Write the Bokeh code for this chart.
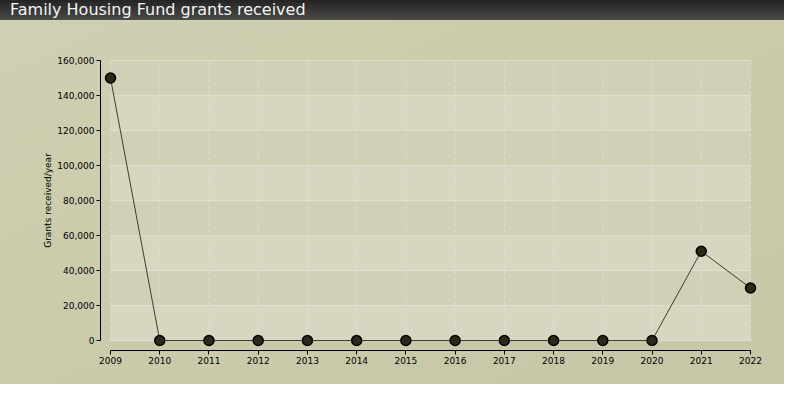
from bokeh.plotting import figure
from bokeh.layouts import column
from bokeh.models import Div, Range1d, NumeralTickFormatter, FixedTicker
from bokeh.embed import file_html
from bokeh.resources import INLINE

# ---- data ----
years = [2009, 2010, 2011, 2012, 2013, 2014, 2015, 2016, 2017, 2018, 2019, 2020, 2021, 2022]
grants = [150000, 0, 0, 0, 0, 0, 0, 0, 0, 0, 0, 0, 51000, 30000]
y_ticks = [0, 20000, 40000, 60000, 80000, 100000, 120000, 140000, 160000]
title_text = "Family Housing Fund grants received"
y_label = "Grants received/year"

# ---- layout constants ----
W, H = 784, 364
px_per_year = 640 / (years[-1] - years[0])
px_per_unit = 280 / y_ticks[-1]
pad = 10

x0 = years[0] - pad / px_per_year
x1 = years[-1] + pad / px_per_year
y0 = y_ticks[0] - pad / px_per_unit
y1 = y_ticks[-1] + pad / px_per_unit

BAND_LIGHT = "#d7d7c1"
BAND_DARK = "#d0d0b7"

p = figure(width=W, height=H, x_range=Range1d(x0, x1), y_range=Range1d(y0, y1),
           output_backend="svg", toolbar_location=None,
           min_border_left=100, min_border_right=24, min_border_top=30, min_border_bottom=34)
p.border_fill_color = None
p.background_fill_color = None
p.outline_line_color = None
p.styles = {"background": "linear-gradient(to bottom right, #cfcfb1, #c7c7a7)"}
p.xgrid.visible = False
p.ygrid.visible = False

# alternating horizontal bands (top band dark)
lows = y_ticks[:-1]
highs = y_ticks[1:]
band_cols = [BAND_LIGHT if i % 2 == 0 else BAND_DARK for i in range(len(lows))]
p.quad(left=years[0], right=years[-1], bottom=lows, top=highs,
       fill_color=band_cols, line_color=None)

# horizontal grid lines
p.segment(x0=[years[0]] * len(y_ticks), x1=[years[-1]] * len(y_ticks),
          y0=y_ticks, y1=y_ticks, line_color="#e6e6dc", line_alpha=0.7, line_width=1)
# vertical dashed grid lines
p.segment(x0=years, x1=years, y0=[y_ticks[0]] * len(years), y1=[y_ticks[-1]] * len(years),
          line_color="#e0e0e4", line_alpha=0.8, line_dash="3 3", line_width=1)

# data line and points
p.line(years, grants, line_color="#3f3e2a", line_width=1)
p.scatter(years, grants, size=10, fill_color="#2b2a17", line_color="#000000", line_width=1.5)

# axes
for ax in (p.xaxis[0], p.yaxis[0]):
    ax.axis_line_color = "#000000"
    ax.major_tick_line_color = "#000000"
    ax.minor_tick_line_color = None
    ax.major_tick_in = 0
    ax.major_tick_out = 4
    ax.major_label_text_font = "DejaVu Sans"
    ax.major_label_text_font_size = "9px"
    ax.major_label_text_color = "#000000"

p.xaxis.ticker = FixedTicker(ticks=years)
p.xaxis.bounds = (years[0], years[-1])
p.xaxis.major_label_standoff = 2

p.yaxis.ticker = FixedTicker(ticks=y_ticks)
p.yaxis.bounds = (y_ticks[0], y_ticks[-1])
p.yaxis.formatter = NumeralTickFormatter(format="0,0")
p.yaxis.major_label_standoff = 2
p.yaxis.axis_label = y_label
p.yaxis.axis_label_text_font = "DejaVu Sans"
p.yaxis.axis_label_text_font_size = "9px"
p.yaxis.axis_label_text_font_style = "normal"
p.yaxis.axis_label_text_color = "#000000"
p.yaxis.axis_label_standoff = 1

title = Div(text=title_text, width=W, height=20, margin=0,
            styles={"background": "linear-gradient(to bottom, #242424, #4a4a47)",
                    "color": "#f4f4f4", "font-family": "DejaVu Sans", "font-size": "16px",
                    "line-height": "20px", "padding-left": "10px", "box-sizing": "border-box",
                    "width": f"{W}px", "height": "20px", "overflow": "hidden"})

layout = column(title, p, spacing=0)

open("out.html", "w").write(file_html(layout, INLINE))
